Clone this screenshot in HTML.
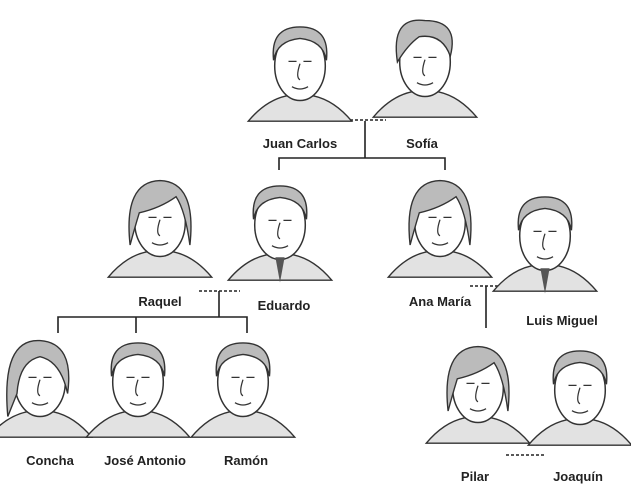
<!DOCTYPE html>
<html><head><meta charset="utf-8"><style>
html,body{margin:0;padding:0;background:#fff;}
svg{display:block}
text{font-family:"Liberation Sans",sans-serif;font-weight:bold;font-size:13px;fill:#222;text-anchor:middle}
.h{fill:#fff;stroke:#333;stroke-width:1.3}
.hr{fill:#bbb;stroke:#333;stroke-width:1.2}
.s{fill:#e2e2e2;stroke:#333;stroke-width:1.2}
.f{fill:none;stroke:#333;stroke-width:1.1}
</style></head><body>
<svg width="631" height="498" viewBox="0 0 631 498">
<defs>
<g id="p">
<path class="s" d="M-45,48 Q-30,30 -12,26 L12,26 Q30,30 45,48 Z"/>
<ellipse class="h" cx="0" cy="0" rx="22" ry="30"/>
<path class="f" d="M-10,-4 h7 M3,-4 h7 M0,-2 q-4,12 0,14 M-7,18 q7,4 14,0"/>
</g>
<g id="hw"><path class="hr" d="M-26,20 Q-32,-35 0,-36 Q32,-35 26,20 Q22,-10 14,-22 Q0,-12 -18,-8 Q-22,5 -26,20Z"/></g>
<g id="hm"><path class="hr" d="M-23,-5 Q-26,-34 0,-34 Q26,-34 23,-5 Q20,-22 0,-24 Q-20,-22 -23,-5Z"/></g>
</defs>

<g stroke="#222" stroke-width="1.6" fill="none">
<path d="M365,121 V158 M279,170 V158 H445 V170"/>
<path d="M219,291 V317 M58,333 V317 H247 V333 M136,317 V333"/>
<path d="M486,286 V328"/>
</g>
<g stroke="#222" stroke-width="1.6" stroke-dasharray="3,2">
<path d="M350,120 H386"/><path d="M199,291 H240"/><path d="M470,286 H508"/><path d="M506,455 H545"/>
</g>

<g transform="translate(300,66) scale(1.15)"><use href="#p"/><use href="#hm"/></g>
<g transform="translate(425,62) scale(1.15)"><use href="#p"/><path class="hr" d="M-24,0 Q-30,-40 0,-36 Q30,-36 22,-5 Q15,-25 -5,-22 Q-15,-15 -24,0Z"/></g>
<g transform="translate(160,222) scale(1.15)"><use href="#p"/><use href="#hw"/></g>
<g transform="translate(280,225) scale(1.15)"><use href="#p"/><use href="#hm"/><path d="M-4,28 l4,22 l4,-22z" fill="#555"/></g>
<g transform="translate(440,222) scale(1.15)"><use href="#p"/><use href="#hw"/></g>
<g transform="translate(545,236) scale(1.15)"><use href="#p"/><use href="#hm"/><path d="M-4,28 l4,22 l4,-22z" fill="#555"/></g>
<g transform="translate(40,382) scale(1.15)"><use href="#p"/><path class="hr" d="M-28,30 Q-34,-38 0,-36 Q30,-34 24,10 Q18,-18 0,-22 Q-18,-18 -20,10 Z"/></g>
<g transform="translate(138,382) scale(1.15)"><use href="#p"/><use href="#hm"/></g>
<g transform="translate(243,382) scale(1.15)"><use href="#p"/><use href="#hm"/></g>
<g transform="translate(478,388) scale(1.15)"><use href="#p"/><use href="#hw"/></g>
<g transform="translate(580,390) scale(1.15)"><use href="#p"/><use href="#hm"/></g>

<text x="300" y="148">Juan Carlos</text>
<text x="422" y="148">Sofía</text>
<text x="160" y="306">Raquel</text>
<text x="284" y="310">Eduardo</text>
<text x="440" y="306">Ana María</text>
<text x="562" y="325">Luis Miguel</text>
<text x="50" y="465">Concha</text>
<text x="145" y="465">José Antonio</text>
<text x="246" y="465">Ramón</text>
<text x="475" y="481">Pilar</text>
<text x="578" y="481">Joaquín</text>
</svg>
</body></html>
